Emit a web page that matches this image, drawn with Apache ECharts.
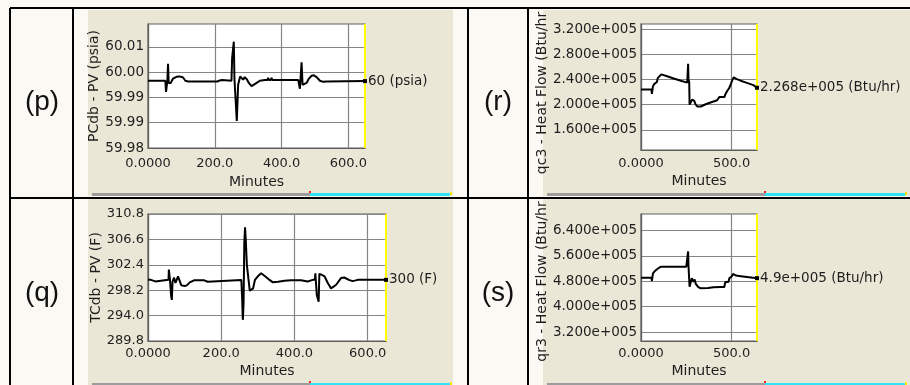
<!DOCTYPE html>
<html><head><meta charset="utf-8">
<script src="https://cdn.jsdelivr.net/npm/echarts@6/dist/echarts.min.js"></script>
<style>html,body{margin:0;padding:0;background:#fbf9f3;}#c{width:910px;height:385px;}</style>
</head><body><div id="c"></div>
<script>
// ---------- data ----------
const rowLabels = ['(p)', '(q)', '(r)', '(s)'];
const yNames = ['PCdb - PV (psia)', 'TCdb - PV (F)', 'qc3 - Heat Flow (Btu/hr', 'qr3 - Heat Flow (Btu/hr'];
const endTexts = ['60 (psia)', '300 (F)', '2.268e+005 (Btu/hr)', '4.9e+005 (Btu/hr)'];
const xName = 'Minutes';

const pMinutes = [0,10,12,14,52,54,56,58,60,62,68,75,85,95,105,112,120,200,205,208,215,218,222,225,250,252,255,257,259,264,266,268,270,276,280,285,290,296,302,310,322,335,350,358,360,362,368,370,372,450,455,457,460,463,468,475,482,490,497,505,515,525,535,650];
const pPressure = [59.9986,59.9986,59.9990,59.9986,59.9986,59.9955,59.9955,59.9986,60.0033,59.9980,59.9980,59.9992,59.9997,59.9998,59.9995,59.9986,59.9984,59.9984,59.9987,59.9984,59.9987,59.9984,59.9988,59.9986,59.9986,60.0049,60.0049,60.0094,59.9990,59.9990,59.9875,59.9875,59.9975,59.9998,59.9998,59.9989,59.9996,59.9990,59.9980,59.9971,59.9978,59.9986,59.9988,59.9988,59.9994,59.9988,59.9988,59.9994,59.9988,59.9988,59.9964,59.9964,60.0037,59.9975,59.9980,59.9980,59.9992,60.0000,60.0001,59.9996,59.9986,59.9983,59.9984,59.9985];

const qMinutes = [0,8,10,20,22,56,57,59,60,63,65,67,71,75,82,91,100,106,114,127,152,154,163,165,255,257,259,261,263,265,267,270,274,278,282,287,292,300,309,318,332,341,355,373,391,418,436,450,456,457,459,461,463,466,468,475,482,491,500,514,527,536,550,559,573,650];
const qTemp = [299.91,299.91,299.65,299.65,299.91,299.91,301.6,301.6,299.9,297.4,296.6,299.6,300.3,299.4,300.5,299.0,298.9,299.0,299.5,299.86,299.86,299.6,299.6,299.9,299.9,297.0,293.3,296.0,306.0,308.6,306.5,302.4,302.4,298.1,298.0,298.5,299.9,300.5,301.0,300.6,299.9,299.5,299.6,299.75,299.86,299.86,299.65,299.91,299.91,301.0,301.0,297.4,297.6,296.3,300.9,300.74,300.5,299.4,298.5,299.1,300.2,300.3,299.86,299.7,299.91,299.91];

const rMinutes = [0,58,60,64,66,72,74,80,88,92,100,112,140,180,220,255,258,260,262,266,268,276,282,288,294,300,310,320,330,360,400,420,430,432,436,440,460,465,470,476,480,486,490,495,500,505,512,525,550,580,620,640];
const rHeat = [224000,224000,217000,217000,229000,229000,233000,236000,236000,242000,245000,248000,245500,241500,238000,235000,236000,265000,240000,236000,200000,199000,208000,211000,206000,201000,197000,195000,197000,201000,205000,207000,208000,212000,212000,209000,212000,216000,218000,222000,220000,226000,226000,232000,232000,240000,243500,241000,238000,235000,231000,226800];

const sMinutes = [0,58,60,64,66,72,76,84,88,95,110,250,255,258,260,262,266,268,274,280,286,290,296,302,310,316,330,370,372,400,440,460,462,466,470,476,482,488,500,508,515,525,540,640];
const sHeat = [491000,491000,481000,481000,505000,505000,512000,512000,518000,521000,526000,526000,528000,528000,574000,528000,525000,463000,463000,490000,494000,478000,486000,472000,475000,462000,458000,459000,461000,461000,462000,462000,470000,478000,474000,482000,478000,490000,495000,503000,505000,498000,497000,490000];

// axis ranges and tick values
const xRanges = [[0, 650], [0, 650], [0, 640], [0, 640]];
const xTicks = [[0, 200, 400, 600], [0, 200, 400, 600], [0, 500], [0, 500]];
const yRanges = [[59.98, 60.0143], [289.8, 310.8], [128000, 328000], [292000, 692000]];
const yTicks = [
  [59.98, 59.987, 59.994, 60.001, 60.008],
  [289.8, 294.0, 298.2, 302.4, 306.6, 310.8],
  [160000, 200000, 240000, 280000, 320000],
  [320000, 400000, 480000, 560000, 640000]
];
const seriesX = [pMinutes, qMinutes, rMinutes, sMinutes];
const seriesY = [pPressure, qTemp, rHeat, sHeat];

// ---------- layout ----------
const FONT = 'DejaVu Sans';
const grids = [
  {left: 148, top: 24, width: 217, height: 124},
  {left: 148, top: 214, width: 238, height: 127},
  {left: 641, top: 24, width: 116, height: 126},
  {left: 641, top: 214, width: 116, height: 127}
];
const labelMargin = [9, 6, 7, 6];
const xNameGap = [27, 23, 24, 23];
const yNameGap = [44, 41, 80, 80];
const yNamePad = [[0, 0, 0, 0], [0, 0, 0, 0], [0, 12, 0, 0], [0, 8, 0, 0]];
const yLabelSize = [13.5, 13, 13.5, 13.5];

function sci(v) {
  const parts = v.toExponential(3).split('e');
  const e = parts[1];
  return parts[0] + 'e' + e[0] + e.slice(1).padStart(3, '0');
}
const yFormat = [
  v => v.toFixed(2),
  v => v.toFixed(1),
  v => sci(v),
  v => sci(v)
];
const xFormat = v => (v === 0 ? '0.0000' : v.toFixed(1));

const txt = {fontFamily: FONT, fontSize: 13, color: '#1e1e1e'};

const xAxes = [], yAxes = [], series = [];
for (let i = 0; i < 4; i++) {
  xAxes.push({
    type: 'value', gridIndex: i, min: xRanges[i][0], max: xRanges[i][1],
    name: xName, nameLocation: 'middle', nameGap: xNameGap[i],
    nameTextStyle: Object.assign({}, txt, {fontSize: 14}),
    axisLine: {show: true, lineStyle: {color: '#5e5e5e', width: 1.2}},
    axisTick: {show: false, customValues: xTicks[i]},
    axisLabel: Object.assign({customValues: xTicks[i], formatter: xFormat, margin: labelMargin[i]}, txt),
    splitLine: {show: true, lineStyle: {color: '#858585', width: 1.2}}
  });
  yAxes.push({
    type: 'value', gridIndex: i, min: yRanges[i][0], max: yRanges[i][1],
    name: yNames[i], nameLocation: 'middle', nameGap: yNameGap[i], nameRotate: 90,
    nameTextStyle: Object.assign({}, txt, {fontSize: 14, padding: yNamePad[i]}),
    axisLine: {show: true, lineStyle: {color: '#5e5e5e', width: 1.2}},
    axisTick: {show: false, customValues: yTicks[i]},
    axisLabel: Object.assign({customValues: yTicks[i], formatter: yFormat[i], margin: 4}, txt, {fontSize: yLabelSize[i]}),
    splitLine: {show: true, lineStyle: {color: '#858585', width: 1.2}}
  });
  const xs = seriesX[i], ys = seriesY[i];
  const data = xs.map((t, k) => [t, ys[k]]);
  const last = data[data.length - 1];
  series.push({
    type: 'line', xAxisIndex: i, yAxisIndex: i, data: data,
    showSymbol: false, symbol: 'none', animation: false, z: 3,
    lineStyle: {color: '#000', width: 2},
    markLine: {
      silent: true, symbol: 'none', animation: false,
      label: {show: false},
      lineStyle: {color: '#ffff00', width: 2, type: 'solid'},
      data: [{xAxis: xRanges[i][1]}]
    },
    markPoint: {
      symbol: 'rect', symbolSize: 4, animation: false,
      itemStyle: {color: '#000'},
      label: Object.assign({show: true, position: 'right', distance: 1, formatter: endTexts[i]}, txt, {fontSize: 13.5}),
      data: [{coord: last}]
    }
  });
}

// ---------- decoration: table and screenshot frames ----------
const graphic = [];
const panels = [[88, 10, 365, 186], [543, 10, 367, 186], [88, 199, 365, 186], [543, 199, 367, 186]];
panels.forEach(p => graphic.push({type: 'rect', z: -10, silent: true, shape: {x: p[0], y: p[1], width: p[2], height: p[3]}, style: {fill: '#ebe7d7'}}));
const strips = [[92, 310, 450, 193], [547, 765, 905, 193], [92, 310, 450, 383], [547, 765, 905, 383]];
strips.forEach(s => {
  graphic.push({type: 'rect', z: -5, silent: true, shape: {x: s[0], y: s[3], width: s[1] - s[0], height: 3}, style: {fill: '#9c9c9c'}});
  graphic.push({type: 'rect', z: -5, silent: true, shape: {x: s[1], y: s[3], width: s[2] - s[1], height: 3}, style: {fill: '#2fe3f2'}});
  graphic.push({type: 'rect', z: -4, silent: true, shape: {x: s[1] - 1, y: s[3] - 2, width: 2, height: 2}, style: {fill: '#ff2020'}});
  graphic.push({type: 'rect', z: -4, silent: true, shape: {x: s[2], y: s[3] - 1, width: 2, height: 3}, style: {fill: '#ffe800'}});
});
const hLines = [[10, 910, 8], [10, 910, 198]];
const vLines = [[10, 8, 385], [73, 8, 385], [468, 8, 385], [528, 8, 385]];
hLines.forEach(l => graphic.push({type: 'line', z: 50, silent: true, shape: {x1: l[0], y1: l[2], x2: l[1], y2: l[2]}, style: {stroke: '#000', lineWidth: 2}}));
vLines.forEach(l => graphic.push({type: 'line', z: 50, silent: true, shape: {x1: l[0], y1: l[1], x2: l[0], y2: l[2]}, style: {stroke: '#000', lineWidth: 2}}));
const rowPos = [[42, 102], [42, 293], [498, 102], [498, 293]];
rowLabels.forEach((t, i) => graphic.push({
  type: 'text', z: 50, silent: true, x: rowPos[i][0], y: rowPos[i][1],
  style: {text: t, fill: '#111', fontFamily: 'Liberation Sans', fontSize: 28, textAlign: 'center', textVerticalAlign: 'middle'}
}));

const chart = echarts.init(document.getElementById('c'), null, {renderer: 'canvas'});
chart.setOption({
  animation: false,
  backgroundColor: '#fbf9f3',
  grid: grids.map(g => Object.assign({show: true, backgroundColor: '#ffffff', borderColor: '#5e5e5e', borderWidth: 1.2}, g)),
  xAxis: xAxes,
  yAxis: yAxes,
  series: series,
  graphic: graphic
});
</script></body></html>
